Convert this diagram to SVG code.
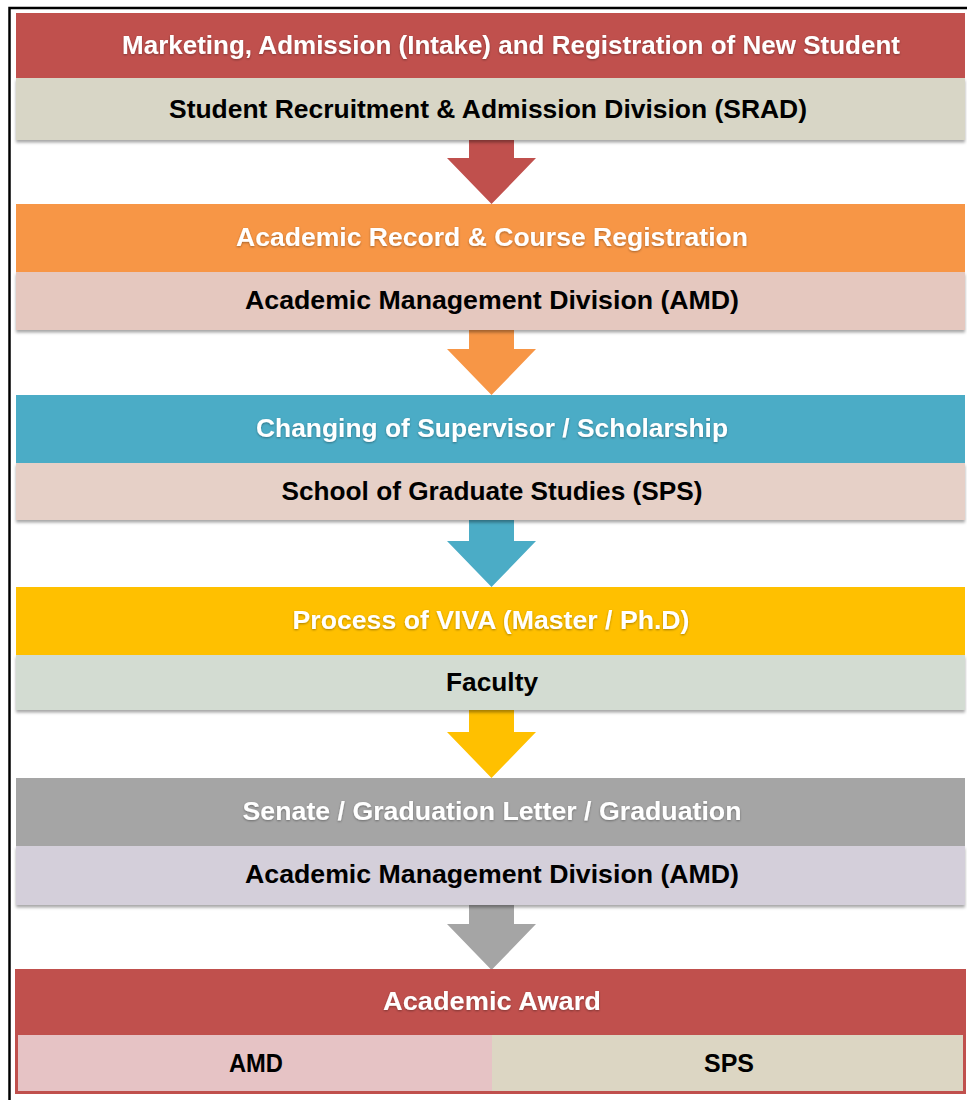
<svg xmlns="http://www.w3.org/2000/svg" width="967" height="1100" viewBox="0 0 967 1100">
  <defs>
    <filter id="sh" x="-5%" y="-20%" width="110%" height="150%">
      <feDropShadow dx="0" dy="2.5" stdDeviation="1.5" flood-color="#000" flood-opacity="0.35"/>
    </filter>
    <filter id="tg" x="-5%" y="-30%" width="110%" height="160%">
      <feDropShadow dx="0" dy="1" stdDeviation="1" flood-color="#000" flood-opacity="0.35"/>
    </filter>
  </defs>
  <style>
    .h { font-family: "Liberation Sans", Arial, sans-serif; font-weight: bold; font-size: 25px; fill: #ffffff; text-anchor: middle; }
    .s { font-family: "Liberation Sans", Arial, sans-serif; font-weight: bold; font-size: 25px; fill: #000000; text-anchor: middle; }
  </style>
  <rect x="0" y="0" width="967" height="1100" fill="#ffffff"/>
  <rect x="9.5" y="8" width="1000" height="1200" fill="none" stroke="#000" stroke-width="2.5"/>

  <g id="connectors">
    <path d="M469,140 H514 V158 H536 L491.5,204 L447,158 H469 Z" fill="#C0504D"/>
    <path d="M469,330 H514 V349 H536 L491.5,395 L447,349 H469 Z" fill="#F79646"/>
    <path d="M469,520 H514 V541 H536 L491.5,587 L447,541 H469 Z" fill="#4BACC6"/>
    <path d="M469,710 H514 V732 H536 L491.5,778 L447,732 H469 Z" fill="#FFC000"/>
    <path d="M469,905 H514 V924 H536 L491.5,970 L447,924 H469 Z" fill="#A5A5A5"/>
  </g>

  <g id="node1">
    <rect x="16" y="78" width="949" height="62" fill="#D8D6C6" filter="url(#sh)"/>
    <rect x="16" y="13" width="949" height="65" fill="#C0504D"/>
    <text class="h" x="511" y="54" textLength="778" lengthAdjust="spacingAndGlyphs" filter="url(#tg)">Marketing, Admission (Intake) and Registration of New Student</text>
    <text class="s" x="488" y="118" textLength="638" lengthAdjust="spacingAndGlyphs">Student Recruitment &amp; Admission Division (SRAD)</text>
  </g>

  <g id="node2">
    <rect x="16" y="272" width="949" height="58" fill="#E5C8BF" filter="url(#sh)"/>
    <rect x="16" y="204" width="949" height="68" fill="#F79646"/>
    <text class="h" x="492" y="246" textLength="512" lengthAdjust="spacingAndGlyphs" filter="url(#tg)">Academic Record &amp; Course Registration</text>
    <text class="s" x="492" y="309" textLength="494" lengthAdjust="spacingAndGlyphs">Academic Management Division (AMD)</text>
  </g>

  <g id="node3">
    <rect x="16" y="463" width="949" height="57" fill="#E6D0C7" filter="url(#sh)"/>
    <rect x="16" y="395" width="949" height="68" fill="#4BACC6"/>
    <text class="h" x="492" y="437" textLength="472" lengthAdjust="spacingAndGlyphs" filter="url(#tg)">Changing of Supervisor / Scholarship</text>
    <text class="s" x="492" y="500" textLength="421" lengthAdjust="spacingAndGlyphs">School of Graduate Studies (SPS)</text>
  </g>

  <g id="node4">
    <rect x="16" y="655" width="949" height="55" fill="#D3DCD2" filter="url(#sh)"/>
    <rect x="16" y="587" width="949" height="68" fill="#FFC000"/>
    <text class="h" x="491" y="629" textLength="397" lengthAdjust="spacingAndGlyphs" filter="url(#tg)">Process of VIVA (Master / Ph.D)</text>
    <text class="s" x="492" y="691" textLength="92" lengthAdjust="spacingAndGlyphs">Faculty</text>
  </g>

  <g id="node5">
    <rect x="16" y="846" width="949" height="59" fill="#D4CFDA" filter="url(#sh)"/>
    <rect x="16" y="778" width="949" height="68" fill="#A5A5A5"/>
    <text class="h" x="492" y="820" textLength="499" lengthAdjust="spacingAndGlyphs" filter="url(#tg)">Senate / Graduation Letter / Graduation</text>
    <text class="s" x="492" y="883" textLength="494" lengthAdjust="spacingAndGlyphs">Academic Management Division (AMD)</text>
  </g>

  <g id="node6">
    <rect x="16" y="970" width="949" height="65" fill="#C0504D"/>
    <rect x="17.5" y="1035" width="474.5" height="57" fill="#E6C3C5"/>
    <rect x="492" y="1035" width="471.5" height="57" fill="#DCD6C3"/>
    <rect x="16.5" y="970.5" width="948" height="122" fill="none" stroke="#C0504D" stroke-width="3"/>
    <text class="h" x="492" y="1010" textLength="218" lengthAdjust="spacingAndGlyphs" filter="url(#tg)">Academic Award</text>
    <text class="s" x="256" y="1072" textLength="54" lengthAdjust="spacingAndGlyphs">AMD</text>
    <text class="s" x="729" y="1072" textLength="50" lengthAdjust="spacingAndGlyphs">SPS</text>
  </g>
</svg>
